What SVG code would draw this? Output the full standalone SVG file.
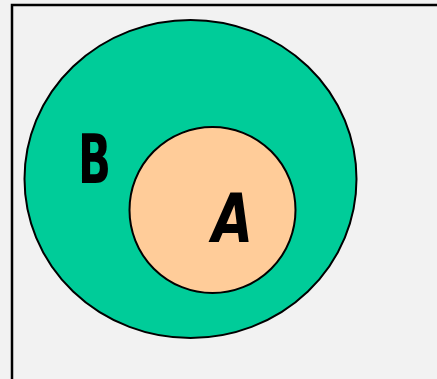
<svg xmlns="http://www.w3.org/2000/svg" width="437" height="379" viewBox="0 0 437 379">
<style>
.lbl{font-family:"DejaVu Sans","Liberation Sans",sans-serif;font-weight:bold;font-size:68px;fill:#000}
.c{stroke:#000;stroke-width:2}
</style>
<rect x="0" y="0" width="437" height="379" fill="#f2f2f2"/>
<rect x="12" y="5" width="440" height="390" fill="#f2f2f2" stroke="#000" stroke-width="2.5"/>
<g id="B">
<ellipse class="c" cx="190.5" cy="179" rx="166" ry="159" fill="#00cc99"/>
<text class="lbl" x="78" y="183" textLength="33" lengthAdjust="spacingAndGlyphs">B</text>
</g>
<g id="A">
<circle class="c" cx="212.5" cy="210" r="83" fill="#ffcc99"/>
<text class="lbl" x="212" y="242" textLength="41" lengthAdjust="spacingAndGlyphs" font-style="italic">A</text>
</g>
</svg>
